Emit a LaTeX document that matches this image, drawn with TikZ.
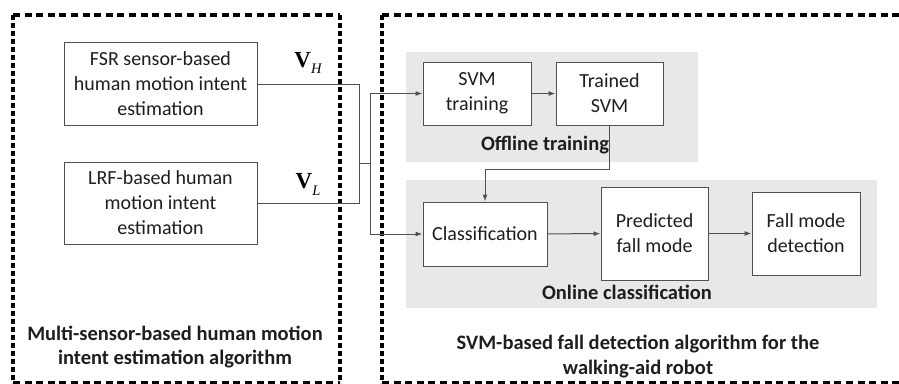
\documentclass[tikz,border=0pt]{standalone}
\usepackage{fontspec}
\setmainfont{Carlito}
\newfontfamily\vfont{Liberation Serif}
\usetikzlibrary{arrows.meta}
\definecolor{bgfill}{RGB}{232,232,232}
\definecolor{edge}{RGB}{80,80,80}
\definecolor{txt}{RGB}{30,30,30}
\tikzset{
  block/.style={draw=edge, line width=1pt, fill=white, text=txt, align=center,
    inner sep=2pt, font=\fontsize{20}{25}\selectfont},
  panel/.style={fill=bgfill, draw=none},
  caption/.style={font=\bfseries\fontsize{20.5}{24.5}\selectfont, text=txt, align=center},
  wire/.style={draw=edge, line width=1pt},
  flow/.style={wire, -{Latex[length=7pt,width=5pt]}},
  hdash/.style={line width=3.4pt, dash pattern=on 7pt off 4.6pt},
  vdash/.style={line width=3.4pt, dash pattern=on 5pt off 3pt},
  vec/.style={font=\vfont\fontsize{23}{23}\selectfont, inner sep=0pt}
}
\begin{document}
\begin{tikzpicture}[x=1pt, y=-1pt]
\useasboundingbox (0,0) rectangle (899,383);

% grouping frames
\draw[hdash] (13,15) -- (340,15);
\draw[hdash] (13,382.5) -- (340,382.5);
\draw[vdash] (13,15) -- (13,383);
\draw[vdash] (340,15) -- (340,383);
\draw[hdash] (382,15) -- (905,15);
\draw[hdash] (382,382.5) -- (905,382.5);
\draw[vdash] (382,15) -- (382,383);

% shaded phases
\fill[panel] (406,52) rectangle (698,162);
\fill[panel] (406,180) rectangle (877,308);

% sensing blocks
\node[block, minimum width=193pt, minimum height=83pt] (fsr) at (160.5,84)
  {FSR sensor-based\\human motion intent\\estimation};
\node[block, minimum width=193pt, minimum height=82pt] (lrf) at (160.5,203)
  {LRF-based human\\motion intent\\estimation};
\node[vec] (vh) at (308,63) {\textbf{V}\raisebox{-6pt}{\fontsize{14.5}{14.5}\selectfont\itshape H}};
\node[vec] (vl) at (308,184) {\textbf{V}\raisebox{-7pt}{\fontsize{14.5}{14.5}\selectfont\itshape L}};

% offline training
\node[block, minimum width=108pt, minimum height=63pt] (svmt) at (477,93.5) {SVM\\training};
\node[block, minimum width=107pt, minimum height=63pt] (trained) at (609.5,93.5) {Trained\\SVM};
\node[caption] (offl) at (545,145) {Offline training};

% online classification
\node[block, minimum width=124pt, minimum height=64pt] (cls) at (485,234) {Classification};
\node[block, minimum width=107pt, minimum height=93pt] (pred) at (654.5,233.5) {Predicted\\fall mode};
\node[block, minimum width=108pt, minimum height=83pt] (fmd) at (806,233.5) {Fall mode\\detection};
\node[caption] (onl) at (627,292) {Online classification};

% frame captions
\node[caption] (capl) at (175,347) {Multi-sensor-based human motion\\intent estimation algorithm};
\node[caption] (capr) at (638,356.5) {SVM-based fall detection algorithm for the\\walking-aid robot};

% connectors
\coordinate (merge) at (359,163);
\coordinate (split) at (370,163);
\coordinate (bend) at (485,169);
\draw[wire] (fsr.east) -| (merge);
\draw[wire] (lrf.east) -| (merge);
\draw[wire] (merge) -- (split);
\draw[flow] (split) |- (svmt.west);
\draw[flow] (split) |- (cls.west);
\draw[flow] (svmt) -- (trained);
\draw[flow] (trained.south) |- (bend) -- (cls.north);
\draw[flow] (cls) -- (pred);
\draw[flow] (pred) -- (fmd);
\end{tikzpicture}
\end{document}
